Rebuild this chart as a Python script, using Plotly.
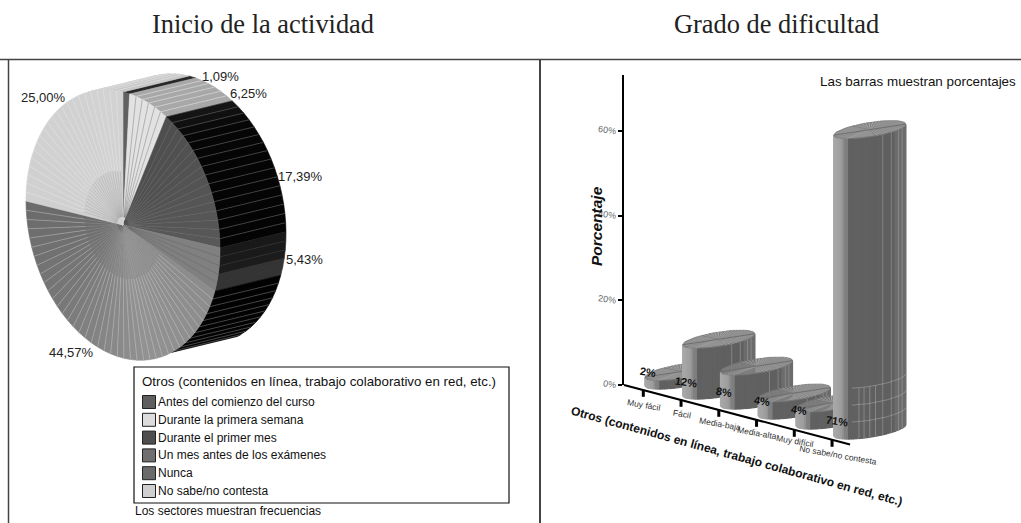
import math

import plotly.graph_objects as go

# left chart: sectors
sector_names = [
    "Antes del comienzo del curso",
    "Durante la primera semana",
    "Durante el primer mes",
    "Un mes antes de los exámenes",
    "Nunca",
    "No sabe/no contesta",
]
sector_pct = [1.09, 6.25, 17.39, 5.43, 44.57, 25.00]
sector_cases = [1, 6, 16, 5, 41, 23]

# right chart: bars
bar_names = ["Muy fácil", "Fácil", "Media-baja", "Media-alta", "Muy difícil", "No sabe/no contesta"]
bar_pct = [2, 12, 8, 4, 4, 71]
y_ticks = [0, 20, 40, 60]

legend_title = "Otros (contenidos en línea, trabajo colaborativo en red, etc.)"

W, H = 1021, 523
SANS = "Liberation Sans"
SERIF = "Liberation Serif"

fig = go.Figure()


def poly(xs, ys, fill, line=None, width=0.6):
    fig.add_trace(go.Scatter(
        x=xs, y=ys, mode="lines", fill="toself", fillcolor=fill,
        line=dict(color=line or fill, width=width),
        hoverinfo="skip", showlegend=False,
    ))


def path(xs, ys, color, width=1.0):
    fig.add_trace(go.Scatter(
        x=xs, y=ys, mode="lines", line=dict(color=color, width=width),
        hoverinfo="skip", showlegend=False,
    ))


def label(x, y, text, size=13, color="#222", font=SANS, angle=0, anchor="center"):
    fig.add_annotation(
        x=x, y=y, text=text, showarrow=False, textangle=angle, xanchor=anchor, yanchor="middle",
        font=dict(family=font, size=size, color=color),
    )


def grey(v):
    v = int(round(v))
    return f"rgb({v},{v},{v})"


def shade(stops, f):
    # stops is a list of (position, level), f in 0..1
    for (p0, v0), (p1, v1) in zip(stops, stops[1:]):
        if f <= p1:
            return grey(v0 + (v1 - v0) * (f - p0) / (p1 - p0))
    return grey(stops[-1][1])


# ---- pie, skewed disc: front cap plus a wall pushed up and to the right
CX, CY = 123, 225
SIDE_X, SIDE_Y = (97, 24.5), (0, -133)
OFF_X, OFF_Y = 66, -16


def pie_pt(deg, r=1.0):
    a = math.radians(deg)
    return (CX + r * (math.sin(a) * SIDE_X[0] + math.cos(a) * SIDE_Y[0]),
            CY + r * (math.sin(a) * SIDE_X[1] + math.cos(a) * SIDE_Y[1]))


cap_shades = [
    [(0, 96), (1, 96)],
    [(0, 226), (1, 226)],
    [(0, 78), (1, 88)],
    [(0, 128), (1, 128)],
    [(0, 140), (0.35, 146), (0.7, 120), (1, 106)],
    [(0, 208), (1, 210)],
]
wall_shades = [
    [(0, 40), (1, 40)],
    [(0, 168), (1, 168)],
    [(0, 24), (0.2, 6), (1, 4)],
    [(0, 24), (0.55, 28), (0.56, 52), (1, 52)],
    [(0, 2), (1, 8)],
    [(0, 200), (1, 200)],
]
wall_line = ["#333", "#d8d8d8", "#555", "#333", "#5a5a5a", "#e0e0e0"]

ticks = [0]
for p in sector_pct:
    ticks.append(ticks[-1] + p)
ticks = [t * 360 / ticks[-1] for t in ticks]

# wall, only the part facing the viewer (about -20 to 150 degrees)
wedges = []
for i, n in enumerate(sector_cases):
    start, stop = ticks[i], ticks[i + 1]
    step = (stop - start) / n
    for k in range(n):
        wedges.append((i, n, k, start + k * step, start + (k + 1) * step))

for i, n, k, a0, a1 in wedges:
    for shift in (0, -360):
        lo, hi = max(a0 + shift, -21), min(a1 + shift, 150)
        if hi <= lo:
            continue
        arc = [pie_pt(lo + (hi - lo) * s / 3) for s in range(4)]
        xs = [p[0] for p in arc] + [p[0] + OFF_X for p in arc[::-1]]
        ys = [p[1] for p in arc] + [p[1] + OFF_Y for p in arc[::-1]]
        poly(xs + xs[:1], ys + ys[:1], shade(wall_shades[i], (k + 0.5) / n))
        p0 = pie_pt(lo)
        if k > 0:
            path([p0[0], p0[0] + OFF_X], [p0[1], p0[1] + OFF_Y], wall_line[i], 0.7)

# cap
for i, n, k, a0, a1 in wedges:
    arc = [pie_pt(a0 + (a1 - a0) * s / 4) for s in range(5)]
    xs = [CX] + [p[0] for p in arc] + [CX]
    ys = [CY] + [p[1] for p in arc] + [CY]
    poly(xs, ys, shade(cap_shades[i], (k + 0.5) / n))

# the strokes between cases on the cap
for i, n, k, a0, a1 in wedges:
    if k == 0:
        continue
    near, far = pie_pt(a0, 0.06), pie_pt(a0, 1.0)
    mid = pie_pt(a0, 0.4)
    if i == 5:
        path([near[0], mid[0]], [near[1], mid[1]], "rgba(150,150,150,0.7)", 0.5)
        path([mid[0], far[0]], [mid[1], far[1]], "rgba(230,230,230,0.8)", 0.6)
    elif i == 4:
        path([near[0], mid[0]], [near[1], mid[1]], "rgba(150,150,150,0.6)", 0.5)
        path([mid[0], far[0]], [mid[1], far[1]], "rgba(205,205,205,0.7)", 0.6)
    elif i == 2:
        path([near[0], far[0]], [near[1], far[1]], "rgba(125,125,125,0.5)", 0.5)
    else:
        path([near[0], far[0]], [near[1], far[1]], "rgba(80,80,80,0.7)", 0.5)

pie_label_pos = [(220, 76), (248, 93), (300, 176), (304, 259), (71, 352), (43, 97)]
for pct, (lx, ly) in zip(sector_pct, pie_label_pos):
    label(lx, ly, f"{pct:.2f}".replace(".", ",") + "%", 13)

# ---- legend box
legend_swatches = ["#5f5f5f", "#dcdcdc", "#4e4e4e", "#6f6f6f", "#6a6a6a", "#cfcfcf"]
label(140, 381, legend_title, 13.3, "#111", anchor="left")
for i, (name, col) in enumerate(zip(sector_names, legend_swatches)):
    sy = 402 + i * 17.8
    fig.add_trace(go.Scatter(
        x=[149], y=[sy], mode="markers",
        marker=dict(symbol="square", size=13, color=col, line=dict(color="#222", width=1)),
        hoverinfo="skip", showlegend=False,
    ))
    label(156, sy, name, 12, "#111", anchor="left")
label(133, 511, "Los sectores muestran frecuencias", 12, "#111", anchor="left")

# ---- cylinders
BASE_X, BASE_Y = 681, 380
STEP_X, STEP_Y = 37.75, 10
PX_PER_PCT = 4.23
MAJOR, MINOR = (36, -5.5), 7.2
strip_levels = [(0, 170), (0.13, 155), (0.14, 130), (0.21, 126), (0.22, 97), (0.85, 96), (0.86, 108), (1, 108)]


def rim(cx, cy, deg):
    a = math.radians(deg)
    return cx + math.cos(a) * MAJOR[0], cy + math.cos(a) * MAJOR[1] - math.sin(a) * MINOR


for b, val in enumerate(bar_pct):
    cx = BASE_X + b * STEP_X
    cy = BASE_Y + b * STEP_Y
    top = cy - val * PX_PER_PCT
    # body, left to right along the front of the rim
    steps = 40
    for s in range(steps):
        d0 = 180 + 180 * s / steps
        d1 = 180 + 180 * (s + 1) / steps
        x0, y0 = rim(cx, cy, d0)
        x1, y1 = rim(cx, cy, d1)
        tx0, ty0 = rim(cx, top, d0)
        tx1, ty1 = rim(cx, top, d1)
        f = (x0 + x1) / 2
        f = (f - (cx - MAJOR[0])) / (2 * MAJOR[0])
        poly([x0, x1, tx1, tx0, x0], [y0, y1, ty1, ty0, y0], shade(strip_levels, f), width=1.2)
    # pale seams on the right of the body
    for frac in (0.68, 0.8, 0.9, 0.95):
        d = math.degrees(math.acos(2 * frac - 1))
        x0, y0 = rim(cx, cy, 360 - d)
        x1, y1 = rim(cx, top, 360 - d)
        path([x0, x1], [y0, y1], "rgba(190,190,190,0.6)", 0.6)
    # tall bar shows faint rings low on its right side
    if val > 20:
        for ring in (4, 8, 12):
            pts = [rim(cx, cy - ring * PX_PER_PCT, 270 + d) for d in range(-30, 91, 5)]
            path([p[0] for p in pts], [p[1] for p in pts], "rgba(190,190,190,0.7)", 0.6)
        for frac in (0.35, 0.42, 0.5, 0.58):
            d = math.degrees(math.acos(2 * frac - 1))
            x0, y0 = rim(cx, cy, 360 - d)
            x1, y1 = rim(cx, cy - 12 * PX_PER_PCT, 360 - d)
            path([x0, x1], [y0, y1], "rgba(190,190,190,0.7)", 0.6)
    # cap, stippled except for its left third
    pts = [rim(cx, top, d) for d in range(0, 361, 6)]
    poly([p[0] for p in pts], [p[1] for p in pts], "rgba(128,128,128,0.85)", "#777", 0.8)
    for d in range(-80, 230, 3):
        if 120 < d < 200:
            continue
        x1, y1 = rim(cx, top, d)
        path([cx, x1], [top, y1], "rgba(195,195,195,0.8)" if d % 2 else "rgba(95,95,95,0.8)", 0.5)
    x0, y0 = rim(cx, top, 180)
    x1, y1 = rim(cx, top, 0)
    path([x0, x1], [y0, y1], "#6e6e6e", 1.0)

# category axis, skewed
AX0_X, AX0_Y = 624, 385
TICK0_X, TICK0_Y = 643.3, 389.8
tick_x = [TICK0_X + i * STEP_X for i in range(len(bar_names))]
tick_y = [TICK0_Y + i * STEP_Y for i in range(len(bar_names))]
path([AX0_X, tick_x[-1] + 18], [AX0_Y, tick_y[-1] + 4.7], "#000", 2)
for tx, ty in zip(tick_x, tick_y):
    path([tx, tx], [ty, ty + 7], "#000", 3)

name_pos = [(644, 405), (682, 414), (720, 424), (757, 433), (795, 441), (838, 455)]
for name, (lx, ly) in zip(bar_names, name_pos):
    label(lx, ly, name, 8.5, "#333", SANS, 10)

pct_pos = [(648, 372), (686, 382), (724, 392), (762, 401), (799, 410), (837, 421)]
for val, (lx, ly) in zip(bar_pct, pct_pos):
    label(lx, ly, f"<b>{val}%</b>", 11, "#111", SANS, 8)

label(736, 456, f"<b>{legend_title}</b>", 12, "#111", SANS, 15.5)
label(596, 226, "<b><i>Porcentaje</i></b>", 15.5, "#111", SANS, -90)
label(918, 81, "Las barras muestran porcentajes", 13.4, "#111")

label(263, 24, "Inicio de la actividad", 26.4, "#222", SERIF)
label(776, 24, "Grado de dificultad", 26.4, "#222", SERIF)

# value axis as a real axis on its own thin subplot
fig.add_trace(go.Scatter(x=[0], y=[0], xaxis="x2", yaxis="y2", mode="markers",
                         marker=dict(opacity=0), hoverinfo="skip", showlegend=False))

frame = [
    dict(type="line", x0=0, x1=W, y0=59.5, y1=59.5, line=dict(color="#444", width=1.5)),
    dict(type="line", x0=8.5, x1=8.5, y0=59.5, y1=H, line=dict(color="#444", width=1.5)),
    dict(type="line", x0=540, x1=540, y0=59.5, y1=H, line=dict(color="#444", width=2)),
    dict(type="rect", x0=134, x1=509, y0=367, y1=503, line=dict(color="#111", width=1.2)),
]

fig.update_layout(
    template="none",
    width=W, height=H, margin=dict(l=0, r=0, t=0, b=0),
    paper_bgcolor="white", plot_bgcolor="rgba(0,0,0,0)",
    showlegend=False, shapes=frame, hovermode=False,
    xaxis=dict(range=[0, W], visible=False, fixedrange=True),
    yaxis=dict(range=[H, 0], visible=False, fixedrange=True),
    xaxis2=dict(domain=[624 / W, 626 / W], visible=False, fixedrange=True, anchor="y2"),
    yaxis2=dict(
        domain=[(H - 385) / H, (H - 75) / H], range=[0, (385 - 75) / PX_PER_PCT],
        anchor="x2", tickvals=y_ticks, ticktext=[f"{t}%" for t in y_ticks], ticks="outside",
        ticklen=4, tickwidth=2, tickcolor="#000", showline=True, linewidth=2, linecolor="#000",
        showgrid=False, zeroline=False, fixedrange=True, tickangle=8,
        tickfont=dict(family=SANS, size=9, color="#666"),
    ),
)

fig.write_html("out.html", config=dict(displayModeBar=False),
               post_script="document.body.style.margin='0'")
